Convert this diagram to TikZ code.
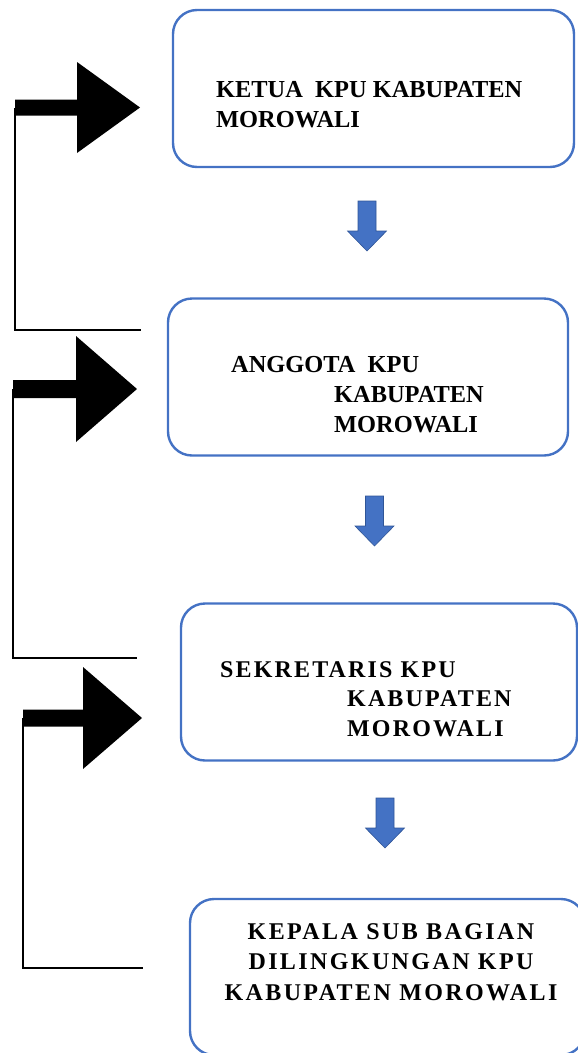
\documentclass[tikz,border=0pt]{standalone}
\usepackage{fontspec}
\setmainfont{Liberation Serif}
\usetikzlibrary{calc}
\definecolor{BoxBlue}{HTML}{4472C4}
\definecolor{ArrowEdge}{HTML}{2F5597}

\begin{document}
\begin{tikzpicture}[
          x=1pt, y=-1pt,
          unit/.style={rectangle, rounded corners=24pt, draw=BoxBlue, line width=2.4pt, minimum width=400pt, minimum height=157pt},
          boxtext/.style={inner sep=0pt, anchor=base west, align=left, font=\fontsize{24.4}{30}\selectfont\bfseries},
          widetext/.style={boxtext, font=\fontsize{24}{29.5}\selectfont\bfseries\addfontfeature{LetterSpace=9}},
          loopline/.style={draw, line width=1.5pt},
          bigarrow/.style={fill=black},
          flow/.style={fill=BoxBlue, draw=ArrowEdge, line width=0.6pt}
        ]
          \useasboundingbox (0,0) rectangle (578,1053);
          \node[unit, minimum width=401pt] (ketua) at (373.5,88.5) {};
          \node[unit] (anggota) at (368,377) {};
          \node[unit, minimum width=396pt] (sekretaris) at (379,682) {};
          \node[unit, minimum width=395pt, minimum height=156pt] (kasubag) at (387.5,977) {};
          \node[boxtext] (tketua) at (216,127) {KETUA\ \ KPU KABUPATEN\\MOROWALI};
          \node[boxtext] (tanggota) at (231,432) {ANGGOTA\ \ KPU\\\hspace*{103pt}KABUPATEN\\\hspace*{103pt}MOROWALI};
          \node[widetext] (tsekretaris) at (220,736) {SEKRETARIS KPU\\\hspace*{127pt}KABUPATEN\\\hspace*{127pt}MOROWALI};
          \node[widetext, anchor=base, align=center, font=\fontsize{24}{30.5}\selectfont\bfseries\addfontfeature{LetterSpace=10}] (tkasubag) at (391,1000) {KEPALA SUB BAGIAN\\DILINGKUNGAN KPU\\KABUPATEN MOROWALI};
          \foreach \sx/\hx/\tx/\cy/\sh/\hh/\ly/\ex in {15/77/140/107.5/8/45.5/330/141, 13/76/137/389/9/53/658/137, 23/83/142/718/8.5/51/968/143} {
            \coordinate (tail) at (\sx,\cy);
            \coordinate (tip) at (\tx,\cy);
            \coordinate (foot) at (\ex,\ly);
            \fill[bigarrow] (\sx,\cy-\sh) -- (\hx,\cy-\sh) -- (\hx,\cy-\hh) -- (tip) -- (\hx,\cy+\hh) -- (\hx,\cy+\sh) -- (\sx,\cy+\sh) -- cycle;
            \draw[loopline] (tail) |- (foot);
          }
          \foreach \cx/\ty in {367/201, 374.5/496, 385/798} {
            \filldraw[flow] (\cx-9,\ty) -- (\cx+9,\ty) -- (\cx+9,\ty+30) -- (\cx+19.5,\ty+30) -- (\cx,\ty+50) -- (\cx-19.5,\ty+30) -- (\cx-9,\ty+30) -- cycle;
          }
        \end{tikzpicture}
\end{document}
